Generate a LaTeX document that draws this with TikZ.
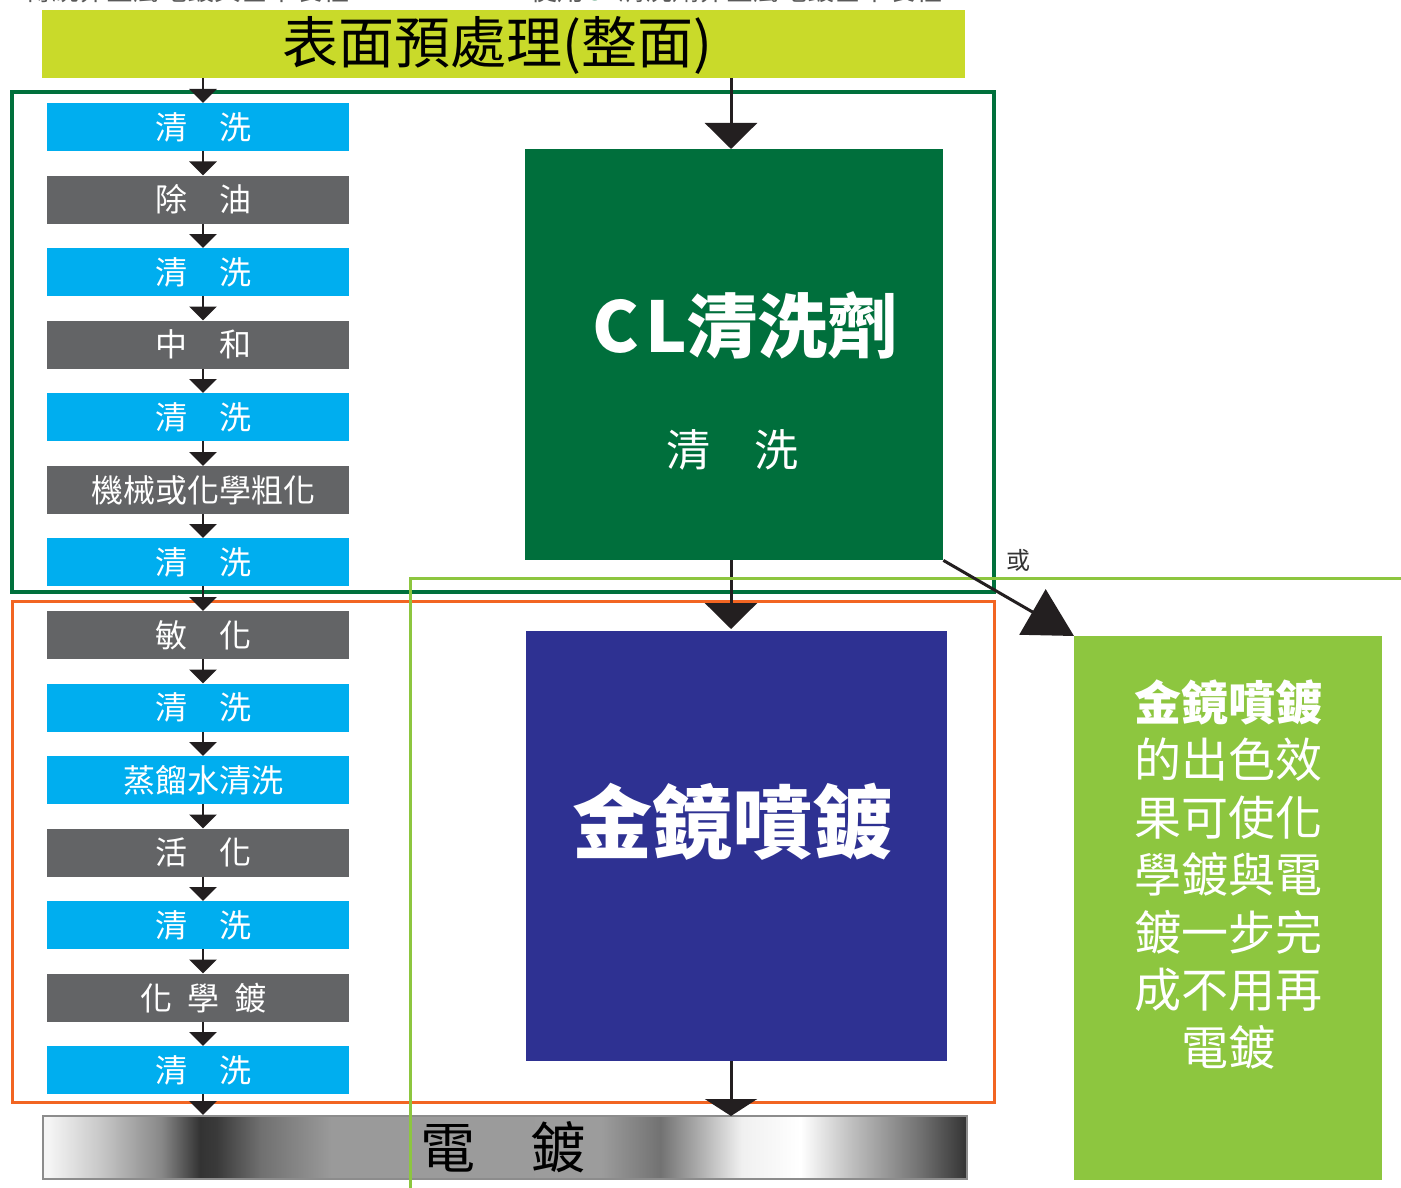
\documentclass[tikz,border=0pt]{standalone}
\usepackage{fontspec}
\setmainfont{Noto Sans CJK TC}
\usetikzlibrary{arrows.meta}
\definecolor{topbar}{HTML}{C9DA2A}
\definecolor{frameg}{HTML}{00703C}
\definecolor{clbox}{HTML}{006F3C}
\definecolor{frameo}{HTML}{F26522}
\definecolor{lgreen}{HTML}{8DC63F}
\definecolor{bluebox}{HTML}{00AEEF}
\definecolor{graybox}{HTML}{636466}
\definecolor{navy}{HTML}{2E3192}
\definecolor{arrc}{HTML}{231F20}
\definecolor{mA}{HTML}{F5F5F5}
\definecolor{mB}{HTML}{C8C8C8}
\definecolor{mC}{HTML}{888888}
\definecolor{mD}{HTML}{333333}
\definecolor{mE}{HTML}{3A3A3A}
\definecolor{mF}{HTML}{707070}
\definecolor{mG}{HTML}{9A9A9A}
\definecolor{mH}{HTML}{9C9C9C}
\definecolor{mI}{HTML}{727272}
\definecolor{mJ}{HTML}{B0B0B0}
\definecolor{mK}{HTML}{F0F0F0}
\definecolor{mL}{HTML}{FFFFFF}
\definecolor{mM}{HTML}{C0C0C0}
\pgfdeclarehorizontalshading{metal}{100bp}{color(0bp)=(mA); color(25bp)=(mA); color(25.3bp)=(mA); color(28.1bp)=(mB); color(31.4bp)=(mC); color(33.5bp)=(mD); color(34.4bp)=(mE); color(36.8bp)=(mF); color(40.6bp)=(mG); color(55.2bp)=(mH); color(58.4bp)=(mI); color(60.6bp)=(mJ); color(62.8bp)=(mK); color(66bp)=(mL); color(68.7bp)=(mM); color(72.5bp)=(mF); color(75bp)=(mD); color(100bp)=(mD)}
\tikzset{
  stepbox/.style={rectangle, anchor=north west, minimum width=302pt, minimum height=48pt, inner sep=0pt, text=white, font=\fontsize{32}{34}\selectfont, execute at begin node={\hspace*{11pt}}},
  bluestep/.style={stepbox, fill=bluebox},
  graystep/.style={stepbox, fill=graybox},
  arr/.style={draw=arrc, line width=2.5pt, -{Triangle[width=27pt,length=14pt]}, arrc},
  bigarr/.style={draw=arrc, line width=3pt, -{Triangle[width=52pt,length=26pt]}, arrc},
}
\begin{document}
\begin{tikzpicture}[x=1pt,y=-1pt]
\useasboundingbox (0,0) rectangle (1401,1188);
% clipped headings
\node[anchor=base west, inner sep=0pt, text=black!65, font=\fontsize{27}{30}\selectfont] (h1) at (25,1) {傳統非金屬電鍍其基本製程};
\node[anchor=base west, inner sep=0pt, text=black!65, font=\fontsize{27}{30}\selectfont] (h2) at (530,1) {使用{\color{frameg}\bfseries CL}清洗劑非金屬電鍍基本製程};
% frames
\draw[frameg, line width=4pt] (12,92) rectangle (994,592);
\draw[frameo, line width=3pt] (12,601) rectangle (994,1102);
% top bar
\node[rectangle, anchor=north west, fill=topbar, minimum width=923pt, minimum height=68pt, inner sep=0pt] (top) at (42,10) {};
\node[inner sep=0pt, font=\fontsize{56}{60}\selectfont] (toptxt) at (497,45) {表面預處理(整面)};
% left steps
\node[bluestep] (s0) at (47,103) {清　洗};
\node[graystep] (s1) at (47,175.5) {除　油};
\node[bluestep] (s2) at (47,248) {清　洗};
\node[graystep] (s3) at (47,320.5) {中　和};
\node[bluestep] (s4) at (47,393) {清　洗};
\node[graystep] (s5) at (47,466) {機械或化學粗化};
\node[bluestep] (s6) at (47,538) {清　洗};
\node[graystep] (s7) at (47,611) {敏　化};
\node[bluestep] (s8) at (47,683.5) {清　洗};
\node[bluestep] (s9) at (47,756) {蒸餾水清洗};
\node[graystep] (s10) at (47,828.5) {活　化};
\node[bluestep] (s11) at (47,901) {清　洗};
\node[graystep] (s12) at (47,973.5) {化\hspace{15pt}學\hspace{15pt}鍍};
\node[bluestep] (s13) at (47,1046) {清　洗};
% bottom bar
\node[rectangle, anchor=north west, shading=metal, draw=black!45, line width=2pt, minimum width=924pt, minimum height=63pt, inner sep=0pt] (bar) at (42,1115) {};
\node[inner sep=0pt, font=\fontsize{55}{60}\selectfont] (bartxt) at (503,1147) {電　鍍};
% right boxes
\node[rectangle, anchor=north west, fill=clbox, minimum width=418pt, minimum height=411pt, inner sep=0pt] (cl) at (525,149) {};
\node[inner sep=0pt, text=white, font=\fontsize{70}{74}\selectfont\bfseries] (cltxt) at (745,325) {C\kern6pt L清洗劑};
\node[inner sep=0pt, text=white, font=\fontsize{44}{48}\selectfont] (clsub) at (732,450) {清　洗};
\node[rectangle, anchor=north west, fill=navy, minimum width=421pt, minimum height=430pt, inner sep=0pt] (gold) at (526,631) {};
\node[inner sep=0pt, text=white, font=\fontsize{80}{84}\selectfont\bfseries] (goldtxt) at (732,822) {金鏡噴鍍};
\node[rectangle, anchor=north west, fill=lgreen, minimum width=308pt, minimum height=544pt, inner sep=0pt] (note) at (1074,636) {};
\node[anchor=north, inner sep=0pt, align=center, text=white, font=\fontsize{47}{57.5}\selectfont] (notetxt) at (1228,679) {{\bfseries 金鏡噴鍍}\\的出色效\\果可使化\\學鍍與電\\鍍一步完\\成不用再\\電鍍};
% left arrows
\coordinate (lx) at (203,0);
\draw[arr] (top.south -| lx) -- (s0.north -| lx);
\foreach \a/\b in {s0/s1,s1/s2,s2/s3,s3/s4,s4/s5,s5/s6,s6/s7,s7/s8,s8/s9,s9/s10,s10/s11,s11/s12,s12/s13}
  \draw[arr] (\a.south -| lx) -- (\b.north -| lx);
\draw[arr] (s13.south -| lx) -- (bar.north -| lx);
% right arrows
\coordinate (rx) at (731,0);
\draw[bigarr] (top.south -| rx) -- (cl.north -| rx);
\draw[bigarr] (cl.south -| rx) -- ([yshift=2pt]gold.north -| rx);
% light green lines
\draw[lgreen, line width=3pt] (410,1188) -- (410,578) -- (1401,578);
\draw[draw=arrc, line width=3pt, -{Triangle[width=52pt,length=17pt]}, arrc] (gold.south -| rx) -- ([yshift=-1pt]bar.north -| rx);
% diagonal arrow
\draw[draw=arrc, line width=3pt, -{Triangle[width=52pt,length=48pt]}, arrc] (cl.south east) -- (note.north west);
\node[inner sep=0pt, text=black!80, font=\fontsize{24}{26}\selectfont] (or) at (1018,560) {或};
\end{tikzpicture}
\end{document}
